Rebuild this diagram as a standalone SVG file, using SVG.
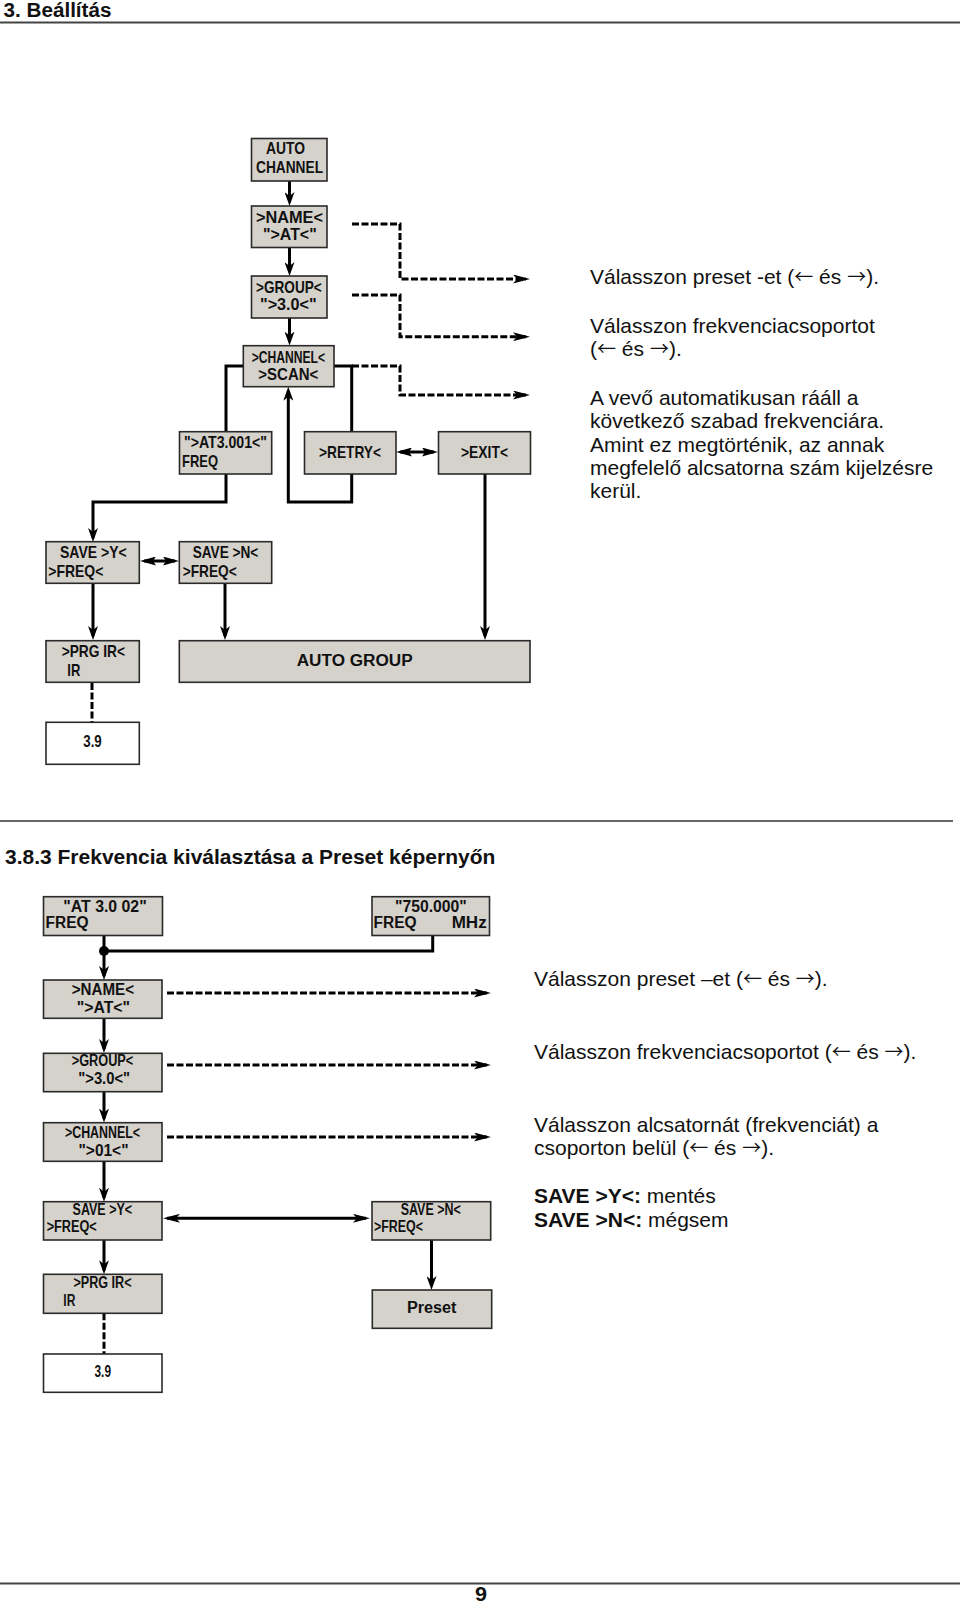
<svg xmlns="http://www.w3.org/2000/svg" width="960" height="1603" viewBox="0 0 960 1603">
<style>
.box{fill:#d5d2cb;stroke:#2a2a2a;stroke-width:1.6}
.wbox{fill:#ffffff;stroke:#2a2a2a;stroke-width:1.6}
.bt{font-family:"Liberation Sans Narrow","Liberation Sans",Arial,sans-serif;font-weight:bold;font-size:17px;fill:#111}
.bs{font-family:"Liberation Sans Narrow","Liberation Sans",Arial,sans-serif;font-weight:bold;font-size:16px;fill:#111}
.br{font-family:"Liberation Sans",Arial,sans-serif;font-weight:bold;font-size:16px;fill:#111}
.tx{font-family:"Liberation Sans",Arial,sans-serif;font-size:21px;fill:#111}
.ar{font-family:"Noto Sans CJK JP","Noto Sans CJK SC",sans-serif;font-size:19px}
.ln{fill:none;stroke:#000;stroke-width:3}
.dl{fill:none;stroke:#000;stroke-width:3;stroke-dasharray:7 2.5}
.a{marker-end:url(#ah)}
</style>
<defs>
<marker id="ah" viewBox="0 0 14 10" refX="10" refY="5" markerWidth="14" markerHeight="10" markerUnits="userSpaceOnUse" orient="auto-start-reverse"><path d="M0,0 L14,5 L0,10 L4,5 z" fill="#000"/></marker>
<marker id="ahd" viewBox="0 0 17 9" refX="13" refY="4.5" markerWidth="17" markerHeight="9" markerUnits="userSpaceOnUse" orient="auto-start-reverse"><path d="M0,0 L17,4.5 L0,9 L4,4.5 z" fill="#000"/></marker>
<marker id="ahs" viewBox="0 0 16 9" refX="12" refY="4.5" markerWidth="16" markerHeight="9" markerUnits="userSpaceOnUse" orient="auto-start-reverse"><path d="M0,0 L16,4.5 L0,9 L3,4.5 z" fill="#000"/></marker>
</defs>
<rect width="960" height="1603" fill="#fff"/>

<!-- page header/footer -->
<text x="3.5" y="17" font-family="'Liberation Sans',Arial,sans-serif" font-weight="bold" font-size="20" fill="#111" textLength="108" lengthAdjust="spacingAndGlyphs">3. Beállítás</text>
<line x1="0" y1="22.5" x2="960" y2="22.5" stroke="#444" stroke-width="2"/>
<line x1="0" y1="821" x2="953" y2="821" stroke="#333" stroke-width="1.5"/>
<text x="5" y="864" font-family="'Liberation Sans',Arial,sans-serif" font-weight="bold" font-size="21" fill="#111">3.8.3 Frekvencia kiválasztása a Preset képernyőn</text>
<line x1="0" y1="1583.5" x2="960" y2="1583.5" stroke="#444" stroke-width="2"/>
<text x="475" y="1600.5" font-family="'Liberation Sans',Arial,sans-serif" font-weight="bold" font-size="20" fill="#111" textLength="12" lengthAdjust="spacingAndGlyphs">9</text>

<g id="connectors">
<!-- top section -->
<path class="ln a" d="M289.5,181 V202"/>
<path class="ln a" d="M289.5,247.5 V272"/>
<path class="ln a" d="M289.5,318 V341.5"/>
<path class="ln" d="M243,366 H226 V431.7"/>
<path class="ln a" d="M226,474 V502 H93 V538"/>
<path class="ln" d="M351.7,431.7 V366 H334"/>
<path class="ln a" d="M351.7,474 V502 H288.3 V390.7"/>
<path class="ln" d="M400,452 H434" marker-start="url(#ahs)" marker-end="url(#ahs)" stroke-width="2"/>
<path class="ln a" d="M485,474 V636"/>
<path class="ln" d="M144,561 H175" marker-start="url(#ahs)" marker-end="url(#ahs)" stroke-width="2"/>
<path class="ln a" d="M93,584 V636"/>
<path class="ln a" d="M225,584 V636"/>
<path class="dl" d="M92,683 V722"/>
<path class="dl" d="M352,224 H400 V279 H526" marker-end="url(#ahd)"/>
<path class="dl" d="M352,295 H400 V336.7 H526" marker-end="url(#ahd)"/>
<path class="dl" d="M352,366 H400 V395 H526" marker-end="url(#ahd)"/>
<!-- bottom section -->
<path class="ln" d="M104,935.5 V951"/>
<path class="ln" d="M432.7,935.5 V951 H104"/>
<circle cx="104" cy="951" r="5" fill="#000"/>
<path class="ln a" d="M104,951 V976"/>
<path class="ln a" d="M104,1018 V1049"/>
<path class="ln a" d="M104,1092 V1118.5"/>
<path class="ln a" d="M104,1161 V1197.7"/>
<path class="ln a" d="M104,1240 V1270.3"/>
<path class="dl" d="M104,1313.3 V1354"/>
<path class="ln" d="M167,1218.3 H366" marker-start="url(#ahd)" marker-end="url(#ahd)" stroke-width="2.5"/>
<path class="ln a" d="M431.5,1240 V1286"/>
<path class="dl" d="M167,993 H487" marker-end="url(#ahd)"/>
<path class="dl" d="M167,1065 H487" marker-end="url(#ahd)"/>
<path class="dl" d="M167,1137 H487" marker-end="url(#ahd)"/>
</g>

<!-- top nodes -->
<g id="auto-channel"><rect class="box" x="251.5" y="138.5" width="75.5" height="42.5"/>
<text class="bt" x="266" y="154" textLength="39" lengthAdjust="spacingAndGlyphs">AUTO</text>
<text class="bt" x="256" y="173" textLength="67" lengthAdjust="spacingAndGlyphs">CHANNEL</text></g>
<g id="name1"><rect class="box" x="251.5" y="206" width="75.5" height="41.5"/>
<text class="bt" x="256" y="223" textLength="67" lengthAdjust="spacingAndGlyphs">&gt;NAME&lt;</text>
<text class="bt" x="263" y="240" textLength="53.7" lengthAdjust="spacingAndGlyphs">"&gt;AT&lt;"</text></g>
<g id="group1"><rect class="box" x="251.5" y="276" width="75.5" height="42"/>
<text class="bt" x="256" y="293" textLength="65.7" lengthAdjust="spacingAndGlyphs">&gt;GROUP&lt;</text>
<text class="bt" x="260" y="309.5" textLength="56.7" lengthAdjust="spacingAndGlyphs">"&gt;3.0&lt;"</text></g>
<g id="channel-scan"><rect class="box" x="243.3" y="345.7" width="90.7" height="41"/>
<text class="bt" x="251.7" y="363.3" textLength="73.3" lengthAdjust="spacingAndGlyphs">&gt;CHANNEL&lt;</text>
<text class="bt" x="258.3" y="380" textLength="60" lengthAdjust="spacingAndGlyphs">&gt;SCAN&lt;</text></g>
<g id="at3001"><rect class="box" x="179.5" y="431.7" width="92.2" height="42.3"/>
<text class="bt" x="184" y="448" textLength="83" lengthAdjust="spacingAndGlyphs">"&gt;AT3.001&lt;"</text>
<text class="bt" x="182" y="466.7" textLength="36" lengthAdjust="spacingAndGlyphs">FREQ</text></g>
<g id="retry"><rect class="box" x="304.5" y="431.7" width="91.5" height="42.3"/>
<text class="bt" x="319" y="458" textLength="62" lengthAdjust="spacingAndGlyphs">&gt;RETRY&lt;</text></g>
<g id="exit"><rect class="box" x="438.5" y="431.7" width="92" height="42.3"/>
<text class="bt" x="461" y="458" textLength="47" lengthAdjust="spacingAndGlyphs">&gt;EXIT&lt;</text></g>
<g id="save-y1"><rect class="box" x="46" y="541.7" width="93.3" height="41.6"/>
<text class="bt" x="60" y="558.3" textLength="66.7" lengthAdjust="spacingAndGlyphs">SAVE &gt;Y&lt;</text>
<text class="bt" x="48.3" y="577.3" textLength="55" lengthAdjust="spacingAndGlyphs">&gt;FREQ&lt;</text></g>
<g id="save-n1"><rect class="box" x="179.3" y="541.7" width="92.4" height="41.6"/>
<text class="bt" x="192.7" y="558.3" textLength="65.6" lengthAdjust="spacingAndGlyphs">SAVE &gt;N&lt;</text>
<text class="bt" x="182.7" y="577.3" textLength="54" lengthAdjust="spacingAndGlyphs">&gt;FREQ&lt;</text></g>
<g id="prg-ir1"><rect class="box" x="46" y="640.7" width="93.3" height="41.6"/>
<text class="bt" x="61.7" y="656.7" textLength="63.3" lengthAdjust="spacingAndGlyphs">&gt;PRG IR&lt;</text>
<text class="bt" x="67.3" y="676" textLength="13" lengthAdjust="spacingAndGlyphs">IR</text></g>
<g id="auto-group"><rect class="box" x="179.3" y="640.7" width="350.7" height="41.6"/>
<text class="br" font-size="17" x="296.7" y="666" textLength="116" lengthAdjust="spacingAndGlyphs">AUTO GROUP</text></g>
<g id="ref39a"><rect class="wbox" x="46" y="722.3" width="93.3" height="42"/>
<text class="bs" x="83.3" y="746.7" textLength="18.4" lengthAdjust="spacingAndGlyphs">3.9</text></g>

<g id="desc-top">
<text class="tx" x="590" y="283.5">Válasszon preset -et (<tspan class="ar">←</tspan> és <tspan class="ar">→</tspan>).</text>
<text class="tx" x="590" y="332.5">Válasszon frekvenciacsoportot</text>
<text class="tx" x="590" y="356">(<tspan class="ar">←</tspan> és <tspan class="ar">→</tspan>).</text>
<text class="tx" x="590" y="405">A vevő automatikusan rááll a</text>
<text class="tx" x="590" y="428.3">következő szabad frekvenciára.</text>
<text class="tx" x="590" y="451.7">Amint ez megtörténik, az annak</text>
<text class="tx" x="590" y="475">megfelelő alcsatorna szám kijelzésre</text>
<text class="tx" x="590" y="498.3">kerül.</text>
</g>

<!-- bottom nodes -->
<g id="at-freq"><rect class="box" x="43.5" y="896.7" width="119" height="38.8"/>
<text class="br" x="63.3" y="911.7" textLength="83.4" lengthAdjust="spacingAndGlyphs">"AT 3.0 02"</text>
<text class="br" x="45.5" y="928.3" textLength="43" lengthAdjust="spacingAndGlyphs">FREQ</text></g>
<g id="mhz-freq"><rect class="box" x="372" y="896.7" width="117.5" height="38.8"/>
<text class="br" x="395" y="911.7" textLength="71.7" lengthAdjust="spacingAndGlyphs">"750.000"</text>
<text class="br" x="373.5" y="928.3" textLength="43" lengthAdjust="spacingAndGlyphs">FREQ</text>
<text class="br" x="451.7" y="928.3" textLength="35" lengthAdjust="spacingAndGlyphs">MHz</text></g>
<g id="name2"><rect class="box" x="43.5" y="980" width="118.5" height="38.3"/>
<text class="bs" x="71.7" y="995" textLength="62.3" lengthAdjust="spacingAndGlyphs">&gt;NAME&lt;</text>
<text class="bs" x="76.7" y="1013.3" textLength="53.3" lengthAdjust="spacingAndGlyphs">"&gt;AT&lt;"</text></g>
<g id="group2"><rect class="box" x="43.5" y="1053.3" width="118.5" height="38.4"/>
<text class="bs" x="71.7" y="1066" textLength="61.6" lengthAdjust="spacingAndGlyphs">&gt;GROUP&lt;</text>
<text class="bs" x="78.3" y="1084.3" textLength="51.7" lengthAdjust="spacingAndGlyphs">"&gt;3.0&lt;"</text></g>
<g id="channel2"><rect class="box" x="43.5" y="1122.7" width="118.5" height="38.6"/>
<text class="bs" x="65" y="1138" textLength="75" lengthAdjust="spacingAndGlyphs">&gt;CHANNEL&lt;</text>
<text class="bs" x="78.5" y="1156" textLength="50" lengthAdjust="spacingAndGlyphs">"&gt;01&lt;"</text></g>
<g id="save-y2"><rect class="box" x="43.5" y="1201.7" width="118.5" height="38.3"/>
<text class="bs" x="72.6" y="1215" textLength="59.5" lengthAdjust="spacingAndGlyphs">SAVE &gt;Y&lt;</text>
<text class="bs" x="46.7" y="1231.7" textLength="50" lengthAdjust="spacingAndGlyphs">&gt;FREQ&lt;</text></g>
<g id="save-n2"><rect class="box" x="372" y="1201.7" width="118.7" height="38.3"/>
<text class="bs" x="400.7" y="1215" textLength="60" lengthAdjust="spacingAndGlyphs">SAVE &gt;N&lt;</text>
<text class="bs" x="374" y="1231.7" textLength="49" lengthAdjust="spacingAndGlyphs">&gt;FREQ&lt;</text></g>
<g id="prg-ir2"><rect class="box" x="43.5" y="1274.3" width="118.5" height="39"/>
<text class="bs" x="73.5" y="1288.3" textLength="58" lengthAdjust="spacingAndGlyphs">&gt;PRG IR&lt;</text>
<text class="bs" x="63.3" y="1306" textLength="12" lengthAdjust="spacingAndGlyphs">IR</text></g>
<g id="preset"><rect class="box" x="372.3" y="1290" width="119.4" height="38.3"/>
<text class="br" x="407" y="1313.3" textLength="49.5" lengthAdjust="spacingAndGlyphs">Preset</text></g>
<g id="ref39b"><rect class="wbox" x="43.5" y="1354" width="118.5" height="38.3"/>
<text class="bs" x="94.5" y="1376.7" textLength="16.5" lengthAdjust="spacingAndGlyphs">3.9</text></g>

<g id="desc-bottom">
<text class="tx" x="534" y="986">Válasszon preset –et (<tspan class="ar">←</tspan> és <tspan class="ar">→</tspan>).</text>
<text class="tx" x="534" y="1059.3">Válasszon frekvenciacsoportot (<tspan class="ar">←</tspan> és <tspan class="ar">→</tspan>).</text>
<text class="tx" x="534" y="1131.7">Válasszon alcsatornát (frekvenciát) a</text>
<text class="tx" x="534" y="1155">csoporton belül (<tspan class="ar">←</tspan> és <tspan class="ar">→</tspan>).</text>
<text class="tx" x="534" y="1203"><tspan font-weight="bold">SAVE &gt;Y&lt;:</tspan> mentés</text>
<text class="tx" x="534" y="1226.7"><tspan font-weight="bold">SAVE &gt;N&lt;:</tspan> mégsem</text>
</g>
</svg>
